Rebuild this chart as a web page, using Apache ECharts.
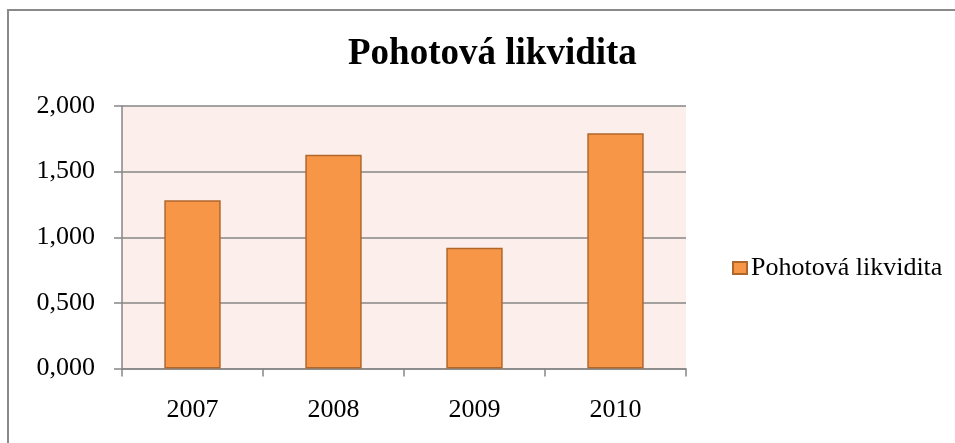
<!DOCTYPE html>
<html>
<head>
<meta charset="utf-8">
<script src="https://cdn.jsdelivr.net/npm/echarts@6/dist/echarts.min.js"></script>
<style>
html,body{margin:0;padding:0;background:#fff;}
#wrap{position:relative;width:955px;height:443px;overflow:hidden;}
#chart{position:absolute;left:0;top:0;width:955px;height:443px;}
#frame{position:absolute;left:7px;top:9px;width:1000px;height:1000px;border-left:2px solid #8a8a8a;border-top:2px solid #8a8a8a;pointer-events:none;}
</style>
</head>
<body>
<div id="wrap"><div id="chart"></div><div id="frame"></div></div>
<script>
const categories = ['2007', '2008', '2009', '2010'];
const seriesName = 'Pohotová likvidita';
const values = [1.281, 1.629, 0.920, 1.792];
const titleText = 'Pohotová likvidita';

const chart = echarts.init(document.getElementById('chart'));
const serif = '"Liberation Serif", "Times New Roman", serif';
chart.setOption({
  animation: false,
  textStyle: { fontFamily: serif },
  title: {
    text: titleText,
    left: 343,
    top: 31,
    textStyle: { fontFamily: serif, fontSize: 37, fontWeight: 'bold', color: '#000' }
  },
  legend: {
    data: [seriesName],
    left: 727,
    top: 250,
    orient: 'vertical',
    itemWidth: 14,
    itemHeight: 12,
    itemGap: 4,
    icon: 'rect',
    textStyle: { fontFamily: serif, fontSize: 26, color: '#000', padding: [0, 0, 0, -1] }
  },
  grid: {
    left: 122, right: 955 - 686, top: 106, bottom: 443 - 368.5,
    show: true, backgroundColor: '#FCEEEA', borderWidth: 0
  },
  xAxis: {
    type: 'category',
    data: categories,
    axisLine: { lineStyle: { color: '#868686', width: 1.5 } },
    axisTick: { show: true, length: 8, alignWithLabel: false, lineStyle: { color: '#868686', width: 1.5 } },
    axisLabel: { fontFamily: serif, fontSize: 26, color: '#000', margin: 29 }
  },
  yAxis: {
    type: 'value',
    min: 0, max: 2, interval: 0.5,
    axisLine: { show: true, lineStyle: { color: '#868686', width: 1.5 } },
    axisTick: { show: true, length: 8, lineStyle: { color: '#868686', width: 1.5 } },
    splitLine: { show: true, lineStyle: { color: '#868686', width: 1.5 } },
    axisLabel: {
      fontFamily: serif, fontSize: 26, color: '#000', margin: 27,
      formatter: v => v.toFixed(3).replace('.', ',')
    }
  },
  series: [{
    name: seriesName,
    type: 'bar',
    data: values,
    barWidth: '40%',
    itemStyle: { color: '#F79646', borderColor: '#B0672C', borderWidth: 1.5 }
  }]
});
</script>
</body>
</html>
